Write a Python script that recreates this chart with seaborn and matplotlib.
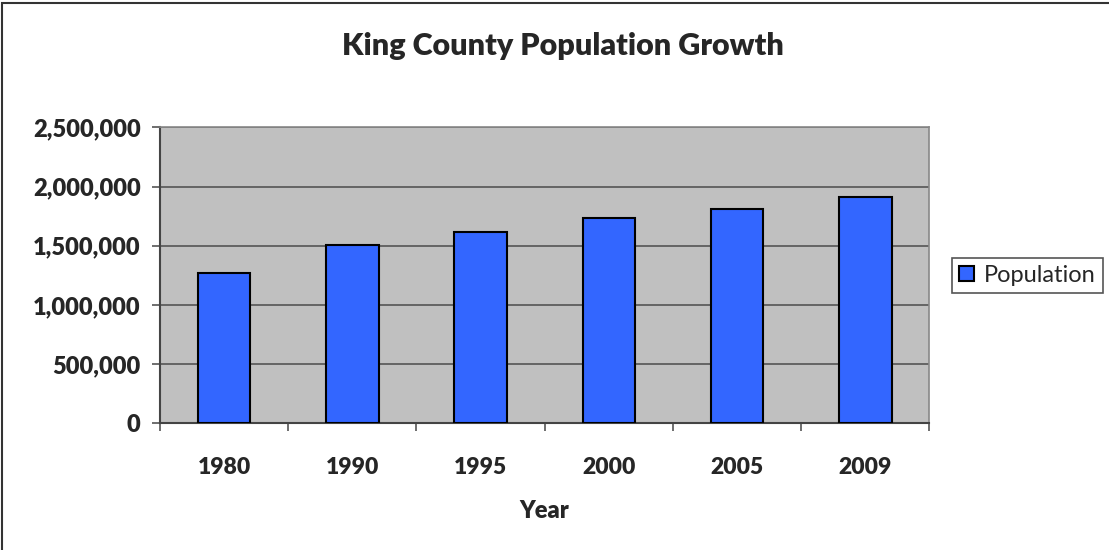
import matplotlib
matplotlib.use("Agg")
import matplotlib.pyplot as plt
import matplotlib.ticker as mticker
from matplotlib.patches import Rectangle
import seaborn as sns
import pandas as pd

years = ["1980", "1990", "1995", "2000", "2005", "2009"]
population = [1269749, 1507319, 1618000, 1737034, 1808000, 1909000]
y_ticks = [0, 500000, 1000000, 1500000, 2000000, 2500000]

df = pd.DataFrame({"Year": years, "Population": population})

sns.set_style("white")
plt.rcParams["font.family"] = ["Lato", "DejaVu Sans"]

fig = plt.figure(figsize=(11.09, 5.5), dpi=100)
ax = fig.add_axes([0.1443, 0.2304, 0.838 - 0.1443, 0.7685 - 0.2304])
ax.set_facecolor("#C0C0C0")

sns.barplot(data=df, x="Year", y="Population", color="#3366FF", width=0.41,
            edgecolor="black", linewidth=1.5, label="Population", ax=ax, zorder=3)
for p in ax.patches:
    p.set_facecolor("#3366FF")

ax.set_ylim(0, 2500000)
ax.set_xlim(-0.5, len(years) - 0.5)
ax.set_yticks(y_ticks)
ax.yaxis.set_major_formatter(mticker.FuncFormatter(lambda v, _: f"{int(v):,}"))
ax.yaxis.grid(True, color="#555555", linewidth=1.2, zorder=0)
ax.set_axisbelow(True)

# tick marks between categories, labels centred under bars
ax.set_xticks([i - 0.5 for i in range(len(years) + 1)])
ax.set_xticklabels([])
ax.set_xticks(range(len(years)), minor=True)
ax.set_xticklabels(years, minor=True, fontsize=16.5, fontweight="heavy")
ax.tick_params(axis="x", which="major", direction="out", length=6, width=1.2, color="#555555", bottom=True)
ax.tick_params(axis="x", which="minor", length=0, pad=24)
ax.tick_params(axis="y", direction="out", length=6, width=1.2, color="#555555", left=True,
               labelsize=17, pad=8)
for t in ax.get_yticklabels():
    t.set_fontweight("heavy")

for side in ["left", "bottom"]:
    ax.spines[side].set_color("#444444")
    ax.spines[side].set_linewidth(1.5)
for side in ["top", "right"]:
    ax.spines[side].set_color("#888888")
    ax.spines[side].set_linewidth(1.2)

ax.set_xlabel("Year", fontsize=17, fontweight="heavy", labelpad=16)
ax.set_ylabel("")

fig.suptitle("King County Population Growth", x=0.508, y=0.942, fontsize=22, fontweight="heavy")

leg = ax.legend(loc="center left", bbox_to_anchor=(1.014, 0.5), frameon=True, fontsize=17,
                handlelength=0.65, handleheight=0.65, handletextpad=0.4, borderpad=0.3,
                fancybox=False, framealpha=1)
leg.get_frame().set_edgecolor("#555555")
leg.get_frame().set_linewidth(1.2)

fig.patches.append(Rectangle((0.002, -0.01), 1.1, 1.005, transform=fig.transFigure,
                             fill=False, edgecolor="#333333", linewidth=1.5))

fig.savefig("out.png", dpi=100)
